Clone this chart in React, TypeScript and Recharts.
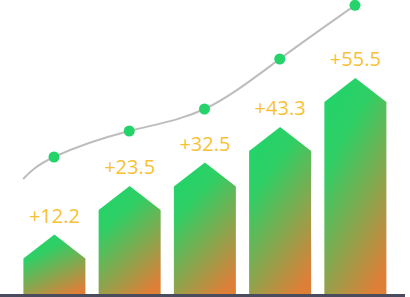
import { ComposedChart, Bar, Line, XAxis, YAxis, LabelList } from 'recharts';

// bar heights (chart units) and the text shown over each arrow
const categories = ['A', 'B', 'C', 'D', 'E'];
const barValues = [61, 109.5, 133, 168.5, 217.5];
const barLabels = ['+12.2', '+23.5', '+32.5', '+43.3', '+55.5'];

// trend line: first point starts at the left edge of the first arrow, no dot there
const lineX = [-0.41, 0, 1, 2, 3, 4];
const lineValues = [116.5, 138.5, 164.5, 186.5, 236.5, 290.2];

const barData = categories.map((c, i) => ({ name: c, value: barValues[i], label: barLabels[i] }));
const lineData = lineX.map((x, i) => ({ x, v: lineValues[i] }));

const padding = { left: 16.4, right: 12.4 };

const ArrowBar = (props: any) => {
    const { x, y, width, height } = props;
    const tip = 24;
    const base = y + height;
    const d = `M${x},${y + tip} L${x + width / 2},${y} L${x + width},${y + tip} L${x + width},${base} L${x},${base} Z`;
    return <path d={d} fill="url(#arrowFill)" />;
};

const TrendDot = (props: any) => {
    const { cx, cy, index } = props;
    if (index === 0) return <g key={index} />;
    return <circle key={index} cx={cx} cy={cy} r={5.5} fill="#24d36a" />;
};

export default function App() {
    return (
        <div style={{ position: 'absolute', left: 0, top: 0 }}>
            <ComposedChart
                width={410}
                height={297}
                data={barData}
                margin={{ top: 0, right: 5, bottom: 0, left: 0 }}
            >
                <defs>
                    <linearGradient id="arrowFill" x1="0.25" y1="0" x2="0.75" y2="1">
                        <stop offset="0%" stopColor="#22d46a" />
                        <stop offset="25%" stopColor="#2fcf65" />
                        <stop offset="100%" stopColor="#de7f38" />
                    </linearGradient>
                </defs>
                <YAxis hide domain={[0, 295.5]} allowDataOverflow />
                <XAxis
                    xAxisId="line"
                    type="number"
                    dataKey="x"
                    hide
                    domain={[-0.5, 4.5]}
                    padding={padding}
                    allowDataOverflow
                />
                <Bar dataKey="value" barSize={62} shape={ArrowBar} isAnimationActive={false}>
                    <LabelList
                        dataKey="label"
                        position="top"
                        offset={12}
                        fill="#f8c134"
                        fontSize={20}
                        fontFamily="Open Sans"
                    />
                </Bar>
                <Line
                    xAxisId="line"
                    data={lineData}
                    dataKey="v"
                    type="natural"
                    stroke="#bdbdbd"
                    strokeWidth={2}
                    dot={TrendDot}
                    activeDot={false}
                    isAnimationActive={false}
                />
                <XAxis
                    dataKey="name"
                    height={1.5}
                    tick={false}
                    tickLine={false}
                    padding={padding}
                    axisLine={{ stroke: '#4a4b5c', strokeWidth: 3 }}
                />
            </ComposedChart>
        </div>
    );
}
